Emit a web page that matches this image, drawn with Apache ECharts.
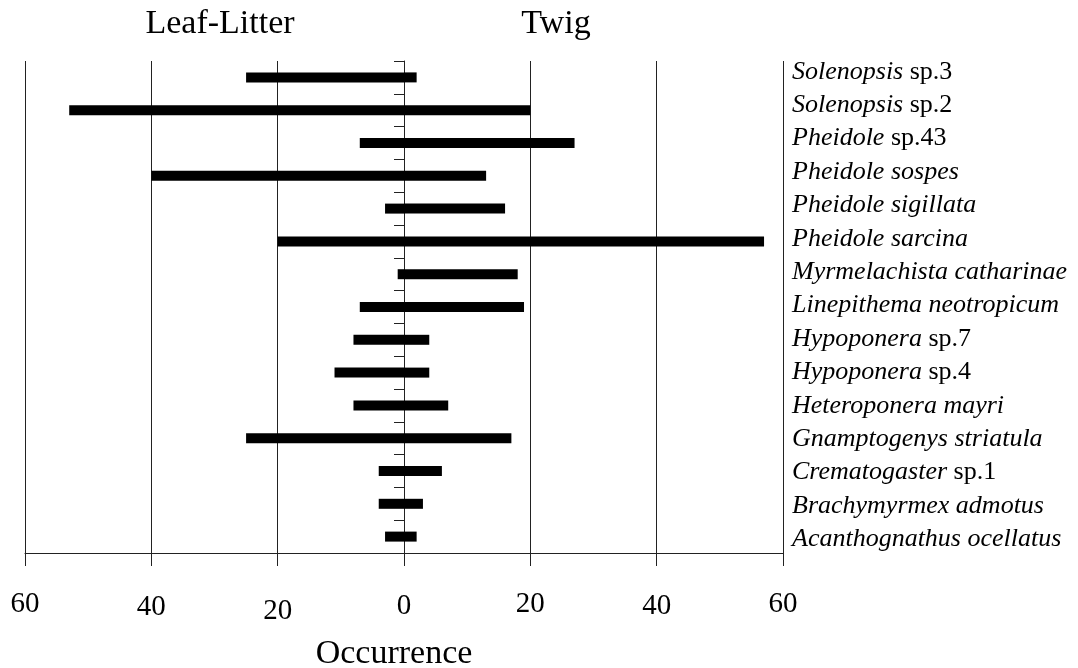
<!DOCTYPE html>
<html><head><meta charset="utf-8">
<script src="https://cdn.jsdelivr.net/npm/echarts@6/dist/echarts.min.js"></script>
<style>html,body{margin:0;padding:0;background:#fff}#c{width:1078px;height:668px}</style>
</head><body><div id="c"></div>
<script>
const categories = ['Solenopsis sp.3','Solenopsis sp.2','Pheidole sp.43','Pheidole sospes','Pheidole sigillata','Pheidole sarcina','Myrmelachista catharinae','Linepithema neotropicum','Hypoponera sp.7','Hypoponera sp.4','Heteroponera mayri','Gnamptogenys striatula','Crematogaster sp.1','Brachymyrmex admotus','Acanthognathus ocellatus'];
const leafLitter = [25,53,7,40,3,20,1,7,8,11,8,25,4,4,3];
const twig = [2,20,27,13,16,57,18,19,4,4,7,17,6,3,2];
const sideTitles = ['Leaf-Litter','Twig'];
const axisTitle = 'Occurrence';

const FONT = 'Liberation Serif';
const LBL = 26;
const tickStyleName = {'-60':'n60','-40':'n40','-20':'n20','0':'z','20':'p20','40':'p40','60':'p60'};
const tickPad = {n60:0,n40:3,n20:7,z:2,p20:0,p40:2,p60:0};
const rich = {};
Object.keys(tickPad).forEach(k => { rich[k] = {fontFamily:FONT,fontSize:29,color:'#000',padding:[tickPad[k],0,0,0]}; });

const chart = echarts.init(document.getElementById('c'));
chart.setOption({
  animation:false,
  backgroundColor:'#fff',
  grid:[
    {left:25,right:295,top:61,bottom:115,containLabel:false},
    {left:25,right:295,top:55,bottom:112,containLabel:false}
  ],
  xAxis:[
    {type:'value',gridIndex:0,min:-60,max:60,interval:20,
     axisLine:{show:true,lineStyle:{color:'#222',width:1}},
     axisTick:{show:true,length:13,lineStyle:{color:'#222',width:1}},
     splitLine:{show:true,lineStyle:{color:'#222',width:1}},
     axisLabel:{margin:37,fontFamily:FONT,fontSize:29,color:'#000',
       formatter:v => '{'+tickStyleName[String(v)]+'|'+Math.abs(v)+'}', rich:rich}},
    {type:'value',gridIndex:1,min:-60,max:60,show:false}
  ],
  yAxis:[
    {type:'category',gridIndex:0,inverse:true,data:categories,
     axisLine:{show:true,onZero:true,lineStyle:{color:'#222',width:1}},
     axisTick:{show:true,length:10,interval:0,lineStyle:{color:'#222',width:1}},
     axisLabel:{show:false},splitLine:{show:false}},
    {type:'category',gridIndex:1,inverse:true,position:'right',data:categories,
     axisLine:{show:false},axisTick:{show:false},splitLine:{show:false},
     axisLabel:{interval:0,hideOverlap:false,margin:9,fontFamily:FONT,fontSize:LBL,fontStyle:'italic',color:'#000',
       formatter:function(name){
         const i = name.indexOf(' ');
         const genus = name.slice(0,i), rest = name.slice(i+1);
         if (rest.indexOf('sp.')===0) return '{i|'+genus+' }{r|'+rest+'}';
         return '{i|'+name+'}';
       },
       rich:{i:{fontFamily:FONT,fontSize:LBL,fontStyle:'italic',color:'#000'},
             r:{fontFamily:FONT,fontSize:LBL,fontStyle:'normal',color:'#000'}}}}
  ],
  series:[
    {name:sideTitles[0],type:'bar',stack:'occ',xAxisIndex:0,yAxisIndex:0,barWidth:10,silent:true,
     itemStyle:{color:'#000'},data:leafLitter.map(v=>-v)},
    {name:sideTitles[1],type:'bar',stack:'occ',xAxisIndex:0,yAxisIndex:0,barWidth:10,silent:true,
     itemStyle:{color:'#000'},data:twig}
  ],
  graphic:[
    {type:'text',x:220,y:24,style:{text:sideTitles[0],fontFamily:FONT,fontSize:34,fill:'#000',align:'center',verticalAlign:'middle'}},
    {type:'text',x:556,y:24,style:{text:sideTitles[1],fontFamily:FONT,fontSize:34,fill:'#000',align:'center',verticalAlign:'middle'}},
    {type:'text',x:394,y:654,style:{text:axisTitle,fontFamily:FONT,fontSize:34,fill:'#000',align:'center',verticalAlign:'middle'}}
  ]
});
</script></body></html>
